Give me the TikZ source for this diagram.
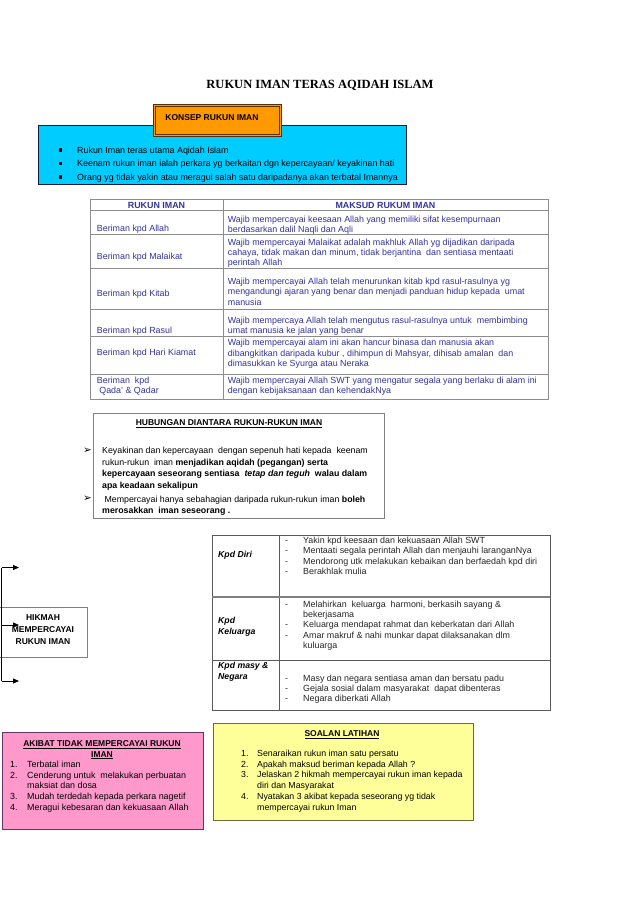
\documentclass[tikz,border=0pt]{standalone}
\usepackage{fontspec}
\setmainfont{Liberation Sans}
\newfontfamily\titlefont{Liberation Serif}
\newfontfamily\dvfont{DejaVu Sans}
\usetikzlibrary{arrows.meta}
\definecolor{cyanfill}{HTML}{00CCFF}
\definecolor{cyanline}{HTML}{1A1A40}
\definecolor{orangefill}{HTML}{FF9900}
\definecolor{orangeline}{HTML}{5C2E00}
\definecolor{tblue}{HTML}{333399}
\definecolor{tline}{HTML}{8C8C8C}
\definecolor{gline}{HTML}{808080}
\definecolor{dline}{HTML}{5A5A5A}
\definecolor{pinkfill}{HTML}{FF99CC}
\definecolor{pinkline}{HTML}{663366}
\definecolor{yellowfill}{HTML}{FFFF99}
\definecolor{yellowline}{HTML}{6B6B3A}
\definecolor{txtgray}{HTML}{262626}
\newcommand\fa{\fontsize{8.9}{10.3}\selectfont}
\newcommand\fb{\fontsize{8.9}{10.3}\selectfont}
\newcommand\sqb{\raisebox{1.6pt}{\rule{3.2pt}{3.2pt}}}
\tikzset{
  txt/.style={anchor=north west, inner sep=0pt, align=left},
  tbltxt/.style={txt, font=\fa, text=tblue},
  hktxt/.style={txt, font=\fb, text=txtgray},
  boxnode/.style={anchor=north west, inner sep=0pt, draw},
}
\begin{document}
\begin{tikzpicture}[x=1pt,y=-1pt]
\useasboundingbox (0,0) rectangle (638,903);
\fill[white] (0,0) rectangle (638,903);

% Title
\node (title) at (320,85) {\titlefont\bfseries\fontsize{12.5}{14}\selectfont RUKUN IMAN TERAS AQIDAH ISLAM};

% Cyan concept box
\node (cyanbox) [boxnode, draw=cyanline, line width=0.8pt, fill=cyanfill, minimum width=368pt, minimum height=59pt] at (38,125) {};
\begin{scope}
\clip (38.6,125.6) rectangle (405.4,183.4);
\node (cyanbul) [txt, font=\fontsize{8.9}{13.5}\selectfont] at (58.5,143.45) {\strut\sqb\\\sqb\\\sqb};
\node (cyantxt) [txt, font=\fontsize{8.9}{13.5}\selectfont] at (77,143.45) {\strut Rukun Iman teras utama Aqidah Islam\\Keenam rukun iman ialah perkara yg berkaitan dgn kepercayaan/ keyakinan hati\\Orang yg tidak yakin atau meragui salah satu daripadanya akan terbatal Imannya};
\end{scope}
\node (konsep) [boxnode, draw=orangeline, line width=0.7pt, double=orangefill, double distance=1.2pt, fill=orangefill, minimum width=126pt, minimum height=30pt] at (154,105) {};
\node (konseptxt) at (212,118) {\bfseries\fontsize{8.5}{10}\selectfont KONSEP RUKUN IMAN};

% Table of rukun iman
\node (tbl) [boxnode, draw=tline, line width=0.8pt, minimum width=458pt, minimum height=200pt] at (90,199) {};
\draw[tline, line width=0.8pt] (223,199) -- (223,399);
\foreach \yy in {210,234,268,309,336,374} \draw[tline, line width=0.8pt] (90,\yy) -- (548,\yy);
\node (h1) at (156.5,205) {\bfseries\fa\color{tblue}RUKUN IMAN};
\node (h2) at (385.5,205) {\bfseries\fa\color{tblue}MAKSUD RUKUM IMAN};
\node (l1) [tbltxt] at (96.7,224.2) {\strut Beriman kpd Allah};
\node (l2) [tbltxt] at (96.7,252.4) {\strut Beriman kpd Malaikat};
\node (l3) [tbltxt] at (96.7,288.7) {\strut Beriman kpd Kitab};
\node (l4) [tbltxt] at (96.7,325.7) {\strut Beriman kpd Rasul};
\node (l5) [tbltxt] at (96.7,348.4) {\strut Beriman kpd Hari Kiamat};
\node (l6) [tbltxt] at (96.7,375.7) {\strut Beriman\ \ kpd\\\ Qada' \& Qadar};
\node (r1) [tbltxt] at (227.7,214.7) {\strut Wajib mempercayai keesaan Allah yang memiliki sifat kesempurnaan\\berdasarkan dalil Naqli dan Aqli};
\node (r2) [tbltxt] at (227.7,237.7) {\strut Wajib mempercayai Malaikat adalah makhluk Allah yg dijadikan daripada\\cahaya, tidak makan dan minum, tidak berjantina\ \ dan sentiasa mentaati\\perintah Allah};
\node (r3) [tbltxt] at (227.7,277.2) {\strut Wajib mempercayai Allah telah menurunkan kitab kpd rasul-rasulnya yg\\mengandungi ajaran yang benar dan menjadi panduan hidup kepada\ \ umat\\manusia};
\node (r4) [tbltxt] at (227.7,315.7) {\strut Wajib mempercaya Allah telah mengutus rasul-rasulnya untuk\ \ membimbing\\umat manusia ke jalan yang benar};
\node (r5) [tbltxt] at (227.7,338.4) {\strut Wajib mempercayai alam ini akan hancur binasa dan manusia akan\\dibangkitkan daripada kubur , dihimpun di Mahsyar, dihisab amalan\ \ dan\\dimasukkan ke Syurga atau Neraka};
\node (r6) [tbltxt] at (227.7,375.7) {\strut Wajib mempercayai Allah SWT yang mengatur segala yang berlaku di alam ini\\dengan kebijaksanaan dan kehendakNya};

% Hubungan box
\node (hub) [boxnode, draw=gline, line width=1.3pt, minimum width=291pt, minimum height=105pt] at (93,413) {};
\node (hubtitle) at (229,424) {\bfseries\fontsize{8.5}{10}\selectfont\underline{HUBUNGAN DIANTARA RUKUN-RUKUN IMAN}};
\begin{scope}
\clip (94,414) rectangle (383,517);
\node (hubA) [txt, font=\fontsize{8.8}{11.5}\selectfont] at (102,445.45) {\strut Keyakinan dan kepercayaan\ \ dengan sepenuh hati kepada\ \ keenam\\rukun-rukun\ \ iman \textbf{menjadikan aqidah (pegangan) serta}\\\textbf{kepercayaan seseorang sentiasa\ \ \textit{tetap dan teguh}\ \ walau dalam}\\\textbf{apa keadaan sekalipun}};
\node (hubB) [txt, font=\fontsize{8.8}{11.5}\selectfont] at (102,493.95) {\strut\ Mempercayai hanya sebahagian daripada rukun-rukun iman \textbf{boleh}\\\textbf{merosakkan\ \ iman seseorang .}};
\end{scope}
\node (bulA) [anchor=east, inner sep=0pt] at (92,450.5) {\dvfont\fontsize{10.5}{11}\selectfont ➢};
\node (bulB) [anchor=east, inner sep=0pt] at (92,499) {\dvfont\fontsize{10.5}{11}\selectfont ➢};

% Hikmah box and arrows
\node (hikmah) [boxnode, draw=gline, line width=0.8pt, minimum width=89pt, minimum height=50pt] at (-2,607) {};
\node (hikmahtxt) [align=center, font=\bfseries\fontsize{8.5}{12}\selectfont] at (43,630) {HIKMAH\\MEMPERCAYAI\\RUKUN IMAN};
\coordinate (vtop) at (1.5,567.5);
\coordinate (vmid) at (1.5,625);
\coordinate (vbot) at (1.5,681);
\coordinate (etop) at (19,567.5);
\coordinate (emid) at (19,625);
\coordinate (ebot) at (19,681);
\draw[line width=0.9pt] (vtop) -- (vbot);
\draw[line width=0.9pt, -{Triangle[length=6pt,width=5pt]}] (vtop) -- (etop);
\draw[line width=0.9pt, -{Triangle[length=6pt,width=5pt]}] (vmid) -- (emid);
\draw[line width=0.9pt, -{Triangle[length=6pt,width=5pt]}] (vbot) -- (ebot);

% Hikmah table
\node (htbl) [boxnode, draw=dline, line width=0.8pt, minimum width=338pt, minimum height=175pt] at (212,535) {};
\draw[dline, line width=0.8pt] (279,535) -- (279,710);
\draw[gline, line width=1.2pt] (212,597) -- (550,597);
\draw[dline, line width=0.8pt] (212,660) -- (550,660);
\node (k1) [txt, font=\bfseries\itshape\fontsize{8.7}{11.5}\selectfont] at (218,548.75) {\strut Kpd Diri};
\node (k2) [txt, font=\bfseries\itshape\fontsize{8.7}{11.5}\selectfont] at (218,614.75) {\strut Kpd\\Keluarga};
\node (k3) [txt, font=\bfseries\itshape\fontsize{8.7}{11.5}\selectfont] at (218,659.75) {\strut Kpd masy \&\\Negara};
\node (d1) [hktxt] at (285,536.2) {\strut -\\-\\-\\-};
\node (t1) [hktxt] at (303,536.2) {\strut Yakin kpd keesaan dan kekuasaan Allah SWT\\Mentaati segala perintah Allah dan menjauhi laranganNya\\Mendorong utk melakukan kebaikan dan berfaedah kpd diri\\Berakhlak mulia};
\node (d2) [hktxt] at (285,599.7) {\strut -\\\mbox{}\\-\\-};
\node (t2) [hktxt] at (303,599.7) {\strut Melahirkan\ \ keluarga\ \ harmoni, berkasih sayang \&\\bekerjasama\\Keluarga mendapat rahmat dan keberkatan dari Allah\\Amar makruf \& nahi munkar dapat dilaksanakan dlm\\kuluarga};
\node (d3) [hktxt] at (285,673.7) {\strut -\\-\\-};
\node (t3) [hktxt] at (303,673.7) {\strut Masy dan negara sentiasa aman dan bersatu padu\\Gejala sosial dalam masyarakat\ \ dapat dibenteras\\Negara diberkati Allah};

% Akibat (pink) box
\node (akibat) [boxnode, draw=pinkline, line width=1pt, fill=pinkfill, minimum width=201pt, minimum height=97pt] at (2,732) {};
\node (akibattitle) [align=center, font=\bfseries\fontsize{8.5}{10.5}\selectfont] at (102,750) {\underline{AKIBAT TIDAK MEMPERCAYAI RUKUN}\\\underline{IMAN}};
\node (akibatnum) [txt, font=\fontsize{8.9}{10.7}\selectfont] at (10,759.6) {\strut 1.\\2.\\\mbox{}\\3.\\4.};
\node (akibattxt) [txt, font=\fontsize{8.9}{10.7}\selectfont] at (27,759.6) {\strut Terbatal iman\\Cenderung untuk\ \ melakukan perbuatan\\maksiat dan dosa\\Mudah terdedah kepada perkara nagetif\\Meragui kebesaran dan kekuasaan Allah};

% Soalan (yellow) box
\node (soalan) [boxnode, draw=yellowline, line width=1pt, fill=yellowfill, minimum width=260pt, minimum height=97pt] at (213,723) {};
\node (soalantitle) at (342,735) {\bfseries\fontsize{8.5}{10}\selectfont\underline{SOALAN LATIHAN}};
\node (soalannum) [txt, font=\fontsize{8.8}{10.8}\selectfont] at (241,748.6) {\strut 1.\\2.\\3.\\\mbox{}\\4.};
\node (soalantxt) [txt, font=\fontsize{8.8}{10.8}\selectfont] at (257,748.6) {\strut Senaraikan rukun iman satu persatu\\Apakah maksud beriman kepada Allah ?\\Jelaskan 2 hikmah mempercayai rukun iman kepada\\diri dan Masyarakat\\Nyatakan 3 akibat kepada seseorang yg tidak\\mempercayai rukun Iman};
\end{tikzpicture}
\end{document}
